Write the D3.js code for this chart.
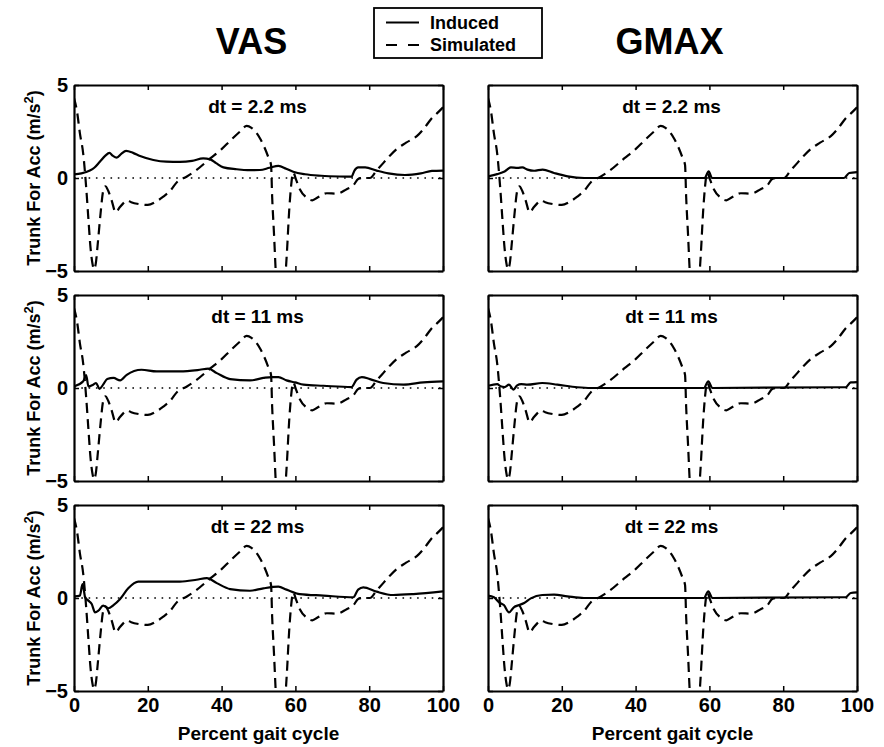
<!DOCTYPE html>
<html>
<head>
<meta charset="utf-8">
<script src="https://cdn.jsdelivr.net/npm/d3@7"></script>
<style>
  body { margin: 0; background: #fff; }
  text { font-family: "Liberation Sans", Arial, Helvetica, sans-serif; font-weight: bold; fill: #000; }
</style>
</head>
<body>
<div id="svgdiv"></div>
<script>
var width = 884, height = 747;

// values: [percent gait cycle, acceleration]
var simulated = [[0,4.3],[0.8,3.6],[1.6,2.4],[2.5,1.3],[3.3,-0.5],[3.9,-2.2],[4.5,-3.8],[5.0,-4.6],[5.4,-4.9],
  [5.9,-4.6],[6.5,-3.4],[7.2,-1.9],[7.9,-0.7],[8.5,-0.45],[9.3,-0.7],[10.2,-1.2],[11.3,-1.85],[12.3,-1.6],
  [13.4,-1.35],[14.4,-1.2],[15.5,-1.3],[17.5,-1.4],[20,-1.45],[22,-1.3],[24.2,-1.0],[26,-0.7],[28,-0.2],
  [30.5,0.07],[33,0.4],[36.9,1.05],[40,1.55],[42.3,2.0],[45,2.5],[46.8,2.8],[48.1,2.7],[50.5,2.1],[52.7,1.1],
  [53.4,0.7],[53.7,-1],[54.2,-3],[54.8,-5.5],[55.5,-7],[56.5,-7],[57.2,-5.5],[57.7,-4],[58.3,-1.8],[58.8,-0.5],
  [59.4,0.3],[60.2,-0.1],[61.2,-0.6],[63,-1.05],[64.6,-1.2],[66,-1.05],[68.5,-0.82],[71.2,-0.84],[73.9,-0.6],
  [75.7,-0.4],[77,-0.05],[78,0],[80.2,0],[82,0.4],[83.8,0.8],[85.6,1.2],[87.4,1.55],[90,1.9],[92.9,2.25],
  [95,2.7],[96.9,3.2],[98.5,3.5],[100,3.8]];

var vas_2_2 = [[0,0.2],[2,0.25],[4.3,0.4],[5.5,0.55],[7,0.87],[8.5,1.2],[9.6,1.35],[10.5,1.2],[11.6,1.1],
  [12.8,1.3],[14.1,1.46],[16,1.35],[17.9,1.18],[21.5,0.97],[25,0.88],[28.7,0.87],[32,0.92],[35,1.05],[36.9,1.0],
  [38.5,0.8],[40.5,0.57],[44.1,0.47],[47,0.42],[50.4,0.43],[53,0.55],[55.4,0.65],[57.5,0.5],[59.4,0.34],
  [62.6,0.2],[67,0.12],[72,0.08],[75.2,0.07],[76,0.4],[77,0.57],[78.9,0.57],[82,0.4],[85.2,0.25],[89.7,0.16],
  [94,0.25],[97,0.38],[100,0.4]];

var vas_11 = [[0,0.09],[2.5,0.36],[3.3,0.7],[3.9,0.09],[5.2,0.18],[6,0.27],[6.9,-0.05],[7.9,0.18],[9,0.48],
  [10.7,0.54],[12.5,0.41],[14.3,0.71],[18.3,0.98],[22.4,0.89],[28.7,0.89],[34.1,0.98],[36.4,1.04],[38.7,0.8],
  [42.3,0.48],[47.7,0.41],[51.3,0.54],[53.6,0.59],[55.4,0.59],[57.6,0.41],[59.9,0.3],[62.2,0.18],[67.6,0.12],
  [75.2,0.05],[76.6,0.45],[78,0.59],[80.2,0.48],[83.8,0.27],[89.3,0.18],[94.7,0.3],[100,0.36]];

var vas_22 = [[0,0.09],[1.6,0.13],[2.3,0.75],[2.7,0.39],[3,0.04],[3.9,-0.14],[4.8,-0.32],[5.7,-0.77],[6.6,-0.68],
  [7.9,-0.41],[9.3,-0.55],[10.7,-0.38],[12.5,-0.05],[14.7,0.52],[17.4,0.88],[20.6,0.88],[28.7,0.88],[33.2,0.98],
  [36,1.07],[38.7,0.8],[42.3,0.48],[47.7,0.39],[51.3,0.52],[55.4,0.61],[57.6,0.45],[61.2,0.21],[67.6,0.13],
  [75.7,0.04],[77,0.45],[78.4,0.57],[82,0.34],[86.5,0.16],[92,0.21],[100,0.36]];

var gmax_2_2 = [[0,0.09],[2.5,0.21],[4.5,0.35],[6.2,0.57],[8,0.54],[9.3,0.57],[10.7,0.45],[12.5,0.39],[14.8,0.45],
  [17.9,0.27],[21.6,0.09],[26.1,0],[58.7,0],[59.8,0.36],[60.7,0],[96.5,0],[97.9,0.27],[100,0.32]];

var gmax_11 = [[0,0.12],[2.5,0.21],[3.4,0.09],[4.5,0.05],[5.7,0.18],[6.9,-0.09],[7.9,0.14],[9,0.21],[10.7,0.18],
  [14.7,0.27],[18.8,0.18],[24.2,0.04],[27.8,0],[58.5,0],[59.7,0.36],[60.8,0],[96.9,0.04],[98.3,0.3],[100,0.32]];

var gmax_22 = [[0,0.13],[1.6,0.04],[3,-0.23],[4.3,-0.38],[5.7,-0.77],[7,-0.5],[8.4,-0.38],[9.8,-0.27],
  [11.6,-0.02],[14.7,0.16],[17.9,0.18],[21.5,0.09],[26,0],[58.5,0],[59.7,0.36],[60.8,0],[96.9,0.04],
  [98.3,0.27],[100,0.3]];

var muscles = ["VAS", "GMAX"];
var dtLabels = ["dt = 2.2 ms", "dt = 11 ms", "dt = 22 ms"];
var induced = [[vas_2_2, vas_11, vas_22], [gmax_2_2, gmax_11, gmax_22]];
var xTicks = [0, 20, 40, 60, 80, 100];
var yTicks = [-5, 0, 5];

var svg = d3.select("#svgdiv")
  .append("svg")
  .attr("width", width)
  .attr("height", height);

var colLeft = [74, 488], panelW = 369;
var rowTop = [85, 295, 505], panelH = 186;

var line = null;

muscles.forEach(function(m, c){
  svg.append("text")
    .attr("x", colLeft[c] + panelW / 2 - (c == 0 ? 7 : 3))
    .attr("y", 54)
    .attr("text-anchor", "middle")
    .style("font-size", "36px")
    .text(m);

  dtLabels.forEach(function(dt, r){
    var x = d3.scaleLinear().domain([0, 100]).range([colLeft[c], colLeft[c] + panelW]);
    var y = d3.scaleLinear().domain([-5, 5]).range([rowTop[r] + panelH, rowTop[r]]);
    var g = svg.append("g");
    var clipId = "clip" + c + r;

    g.append("clipPath").attr("id", clipId)
      .append("rect")
      .attr("x", x(0)).attr("y", y(5))
      .attr("width", x(100) - x(0)).attr("height", y(-5) - y(5));

    // dotted zero line
    g.append("line")
      .attr("x1", x(0)).attr("x2", x(100))
      .attr("y1", y(0)).attr("y2", y(0))
      .attr("stroke", "#000")
      .attr("stroke-width", 1.6)
      .attr("stroke-dasharray", "1.6,5.7");

    line = d3.line()
      .x(function(d){ return x(d[0]); })
      .y(function(d){ return y(d[1]); })
      .curve(d3.curveMonotoneX);

    g.append("path")
      .datum(simulated)
      .attr("clip-path", "url(#" + clipId + ")")
      .attr("d", line)
      .attr("fill", "none")
      .attr("stroke", "#000")
      .attr("stroke-width", 2.2)
      .attr("stroke-dasharray", "10,6");

    g.append("path")
      .datum(induced[c][r])
      .attr("clip-path", "url(#" + clipId + ")")
      .attr("d", line)
      .attr("fill", "none")
      .attr("stroke", "#000")
      .attr("stroke-width", 2.2);

    // box with inner ticks
    var bottom = d3.axisBottom(x).tickValues(xTicks).tickSizeInner(-5).tickSizeOuter(0).tickPadding(7);
    if (r < 2) bottom.tickFormat("");
    var top = d3.axisTop(x).tickValues(xTicks).tickSizeInner(-5).tickSizeOuter(0).tickFormat("");
    var left = d3.axisLeft(y).tickValues(yTicks).tickSizeInner(-5).tickSizeOuter(0).tickPadding(6);
    if (c == 1) left.tickFormat("");
    var right = d3.axisRight(y).tickValues(yTicks).tickSizeInner(-5).tickSizeOuter(0).tickFormat("");

    [[bottom, "translate(0," + y(-5) + ")"], [top, "translate(0," + y(5) + ")"],
     [left, "translate(" + x(0) + ",0)"], [right, "translate(" + x(100) + ",0)"]].forEach(function(a){
      var ax = g.append("g").attr("transform", a[1]).call(a[0]);
      ax.select(".domain").attr("stroke-width", 2.2);
      ax.selectAll(".tick line").attr("stroke-width", 1.5);
      ax.selectAll(".tick text")
        .style("font-family", "'Liberation Sans', Arial, sans-serif")
        .style("font-weight", "bold")
        .style("font-size", "20px")
        .attr("fill", "#000");
    });

    g.append("text")
      .attr("x", x(50) - 1)
      .attr("y", rowTop[r] + 28)
      .attr("text-anchor", "middle")
      .style("font-size", "19px")
      .text(dt);

    if (c == 0) {
      var lbl = svg.append("text")
        .attr("transform", "translate(40," + (rowTop[r] + panelH / 2) + ") rotate(-90)")
        .attr("text-anchor", "middle")
        .style("font-size", "18px");
      lbl.append("tspan").text("Trunk For Acc (m/s");
      lbl.append("tspan").attr("dy", -7).style("font-size", "13px").text("2");
      lbl.append("tspan").attr("dy", 7).text(")");
    }

    if (r == 2) {
      svg.append("text")
        .attr("x", x(50))
        .attr("y", 740)
        .attr("text-anchor", "middle")
        .style("font-size", "19px")
        .text("Percent gait cycle");
    }
  });
});

// legend
var legend = svg.append("g");
legend.append("rect")
  .attr("x", 374).attr("y", 8)
  .attr("width", 168).attr("height", 50)
  .attr("fill", "#fff")
  .attr("stroke", "#000")
  .attr("stroke-width", 1.8);
legend.append("line")
  .attr("x1", 386).attr("x2", 419).attr("y1", 22.5).attr("y2", 22.5)
  .attr("stroke", "#000").attr("stroke-width", 2.2);
legend.append("line")
  .attr("x1", 386).attr("x2", 419).attr("y1", 45).attr("y2", 45)
  .attr("stroke", "#000").attr("stroke-width", 2.2)
  .attr("stroke-dasharray", "11,11");
legend.append("text").attr("x", 430).attr("y", 28.5).style("font-size", "18px").text("Induced");
legend.append("text").attr("x", 430).attr("y", 51).style("font-size", "18px").text("Simulated");
</script>
</body>
</html>
